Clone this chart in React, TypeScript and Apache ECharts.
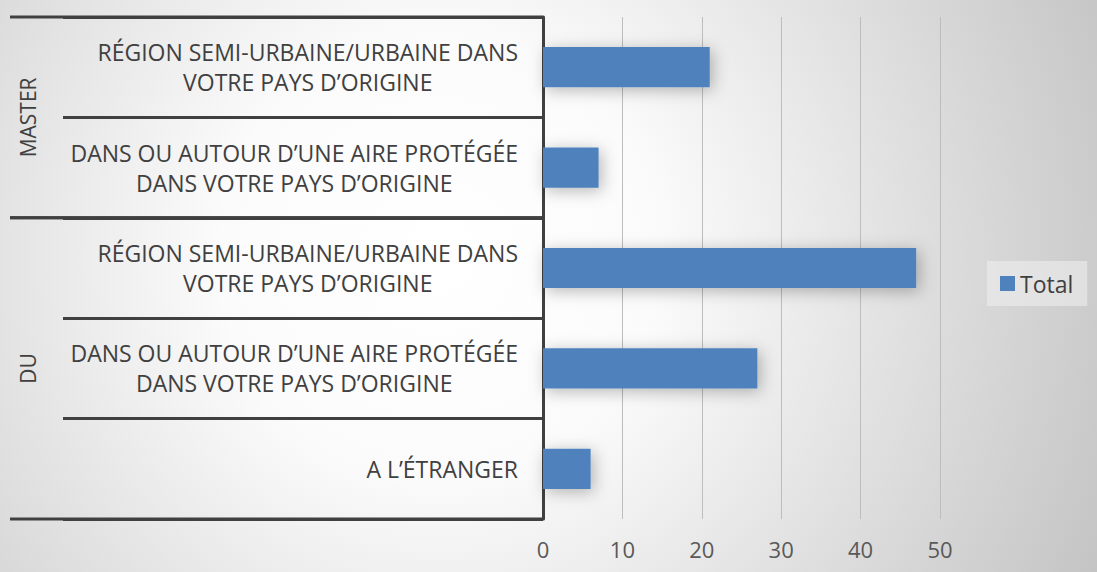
import React, { useEffect, useRef } from "react";
import * as echarts from "echarts";

const categoryKeys = ["M1", "M2", "D1", "D2", "D3"];
const categoryLabels = [
  "RÉGION SEMI-URBAINE/URBAINE DANS\nVOTRE PAYS D’ORIGINE",
  "DANS OU AUTOUR D’UNE AIRE PROTÉGÉE\nDANS VOTRE PAYS D’ORIGINE",
  "RÉGION SEMI-URBAINE/URBAINE DANS\nVOTRE PAYS D’ORIGINE",
  "DANS OU AUTOUR D’UNE AIRE PROTÉGÉE\nDANS VOTRE PAYS D’ORIGINE",
  "A L’ÉTRANGER",
];
const totalValues = [21, 7, 47, 27, 6];
const groupNames = ["MASTER", "DU"];
const groupStarts = [0, 2];
const groupEnds = [1, 4];
const seriesName = "Total";

const FONT = "'Open Sans', 'DejaVu Sans', sans-serif";
const DARK = "#404040";

export default function App() {
  const ref = useRef<HTMLDivElement>(null);
  useEffect(() => {
    if (!ref.current) return;
    const chart = echarts.init(ref.current, undefined, { renderer: "svg" });
    chart.setOption({
      animation: false,
      textStyle: { fontFamily: FONT },
      grid: { left: 543, right: 157, top: 17, bottom: 53, containLabel: false },
      legend: {
        data: [seriesName],
        left: 987,
        top: 261,
        icon: "rect",
        itemWidth: 15,
        itemHeight: 15,
        itemGap: 8,
        padding: [11, 14, 11, 13],
        backgroundColor: "rgba(240,240,240,0.55)",
        textStyle: { fontSize: 23, color: DARK, fontFamily: FONT },
      },
      xAxis: {
        type: "value",
        min: 0,
        max: 50,
        interval: 10,
        axisLine: { show: false },
        axisTick: { show: false },
        splitLine: { show: true, lineStyle: { color: "#bdbdbd", width: 1 } },
        axisLabel: { fontSize: 22, color: "#595959", margin: 19, fontFamily: FONT },
      },
      yAxis: {
        type: "category",
        inverse: true,
        data: categoryKeys,
        axisLine: { show: true, lineStyle: { color: DARK, width: 3 } },
        axisTick: { show: true, length: 480, lineStyle: { color: DARK, width: 3 } },
        axisLabel: {
          margin: 25,
          fontSize: 23,
          lineHeight: 30,
          color: DARK,
          fontFamily: FONT,
          align: "right",
          formatter: (v: string) =>
            categoryLabels[categoryKeys.indexOf(v)]
              .split("\n")
              .map((line) => "{c|" + line + "}")
              .join("\n"),
          rich: {
            c: {
              align: "center",
              fontSize: 23,
              lineHeight: 30,
              color: DARK,
              fontFamily: FONT,
            },
          },
        },
      },
      series: [
        {
          name: seriesName,
          type: "bar",
          data: totalValues,
          barWidth: "40%",
          itemStyle: {
            color: "#4F81BD",
            shadowBlur: 16,
            shadowColor: "rgba(0,0,0,0.28)",
            shadowOffsetX: 3,
            shadowOffsetY: 3,
          },
        },
      ],
    });

    const c0 = chart.convertToPixel({ yAxisIndex: 0 }, categoryKeys[0]) as number;
    const c1 = chart.convertToPixel({ yAxisIndex: 0 }, categoryKeys[1]) as number;
    const band = c1 - c0;
    const x0 = chart.convertToPixel({ xAxisIndex: 0 }, 0) as number;
    const centerOf = (i: number) => chart.convertToPixel({ yAxisIndex: 0 }, categoryKeys[i]) as number;
    const graphics: any[] = [];
    groupNames.forEach((name, g) => {
      const top = centerOf(groupStarts[g]) - band / 2;
      const bottom = centerOf(groupEnds[g]) + band / 2;
      graphics.push({
        type: "line",
        shape: { x1: 10, y1: top, x2: x0, y2: top },
        style: { stroke: DARK, lineWidth: 3 },
        silent: true,
      });
      graphics.push({
        type: "line",
        shape: { x1: 10, y1: bottom, x2: x0, y2: bottom },
        style: { stroke: DARK, lineWidth: 3 },
        silent: true,
      });
      graphics.push({
        type: "text",
        x: 28,
        y: (top + bottom) / 2,
        rotation: Math.PI / 2,
        style: {
          text: name,
          fontSize: 21,
          fontFamily: FONT,
          fill: DARK,
          align: "center",
          verticalAlign: "middle",
        },
        silent: true,
      });
    });
    chart.setOption({ graphic: graphics });

    return () => chart.dispose();
  }, []);
  return (
    <div
      ref={ref}
      style={{
        position: "absolute",
        left: 0,
        top: 0,
        width: 1097,
        height: 572,
        background:
          "radial-gradient(circle at 40% 45%, #ffffff 0%, #fbfbfb 30%, #c4c4c4 100%)",
      }}
    />
  );
}
